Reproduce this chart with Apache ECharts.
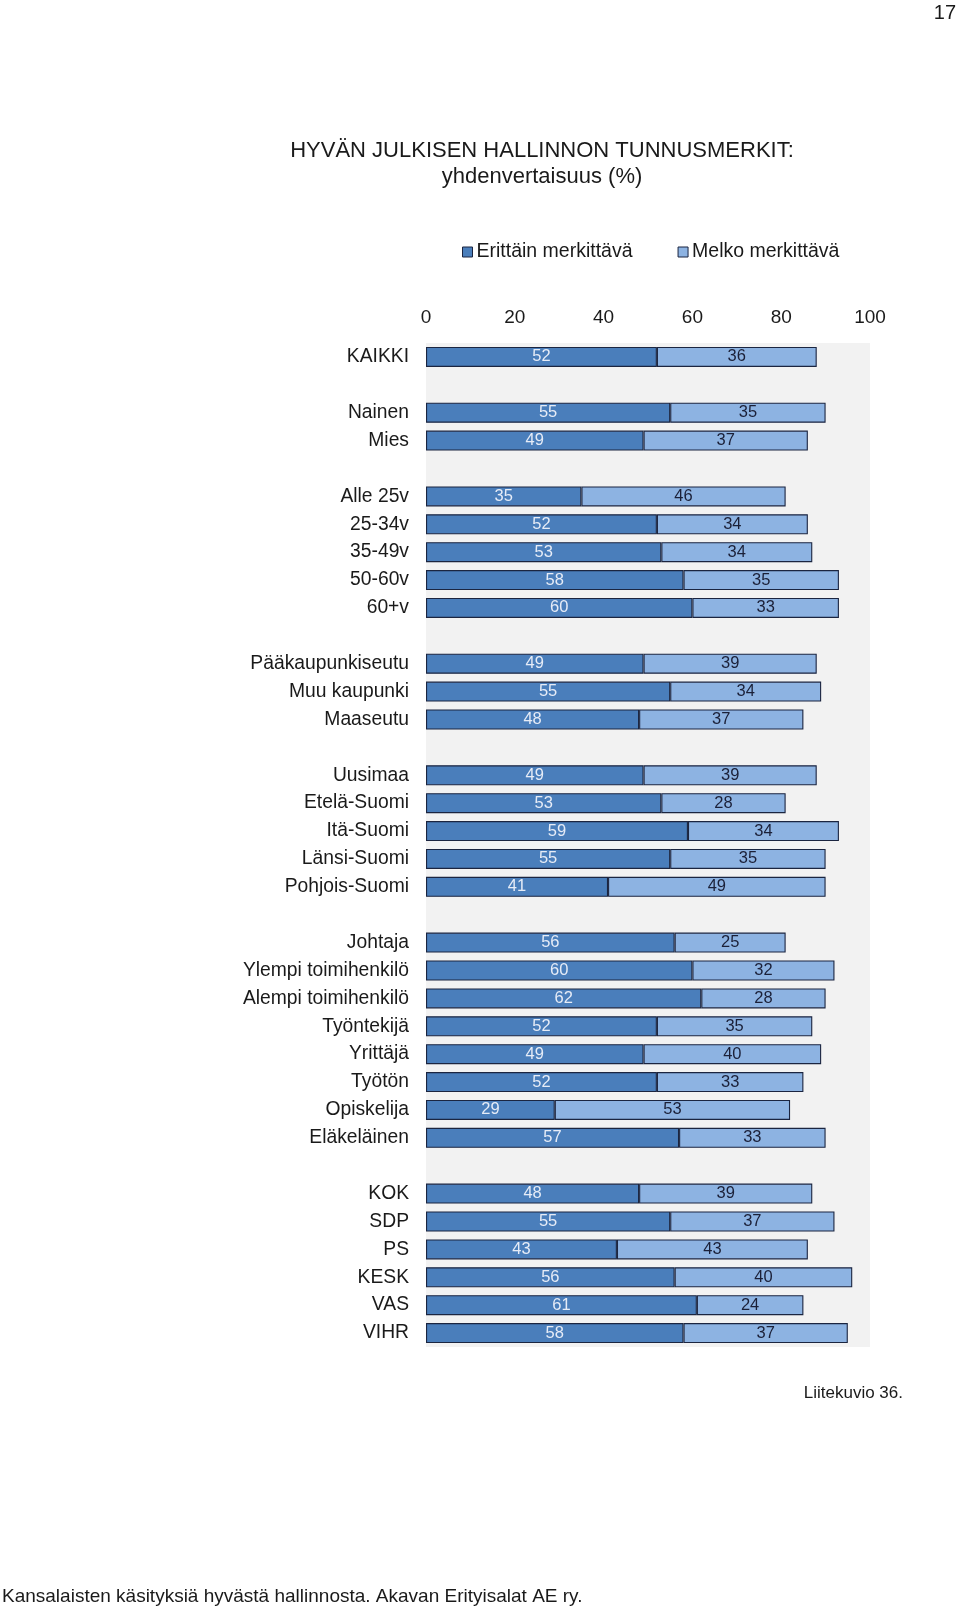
<!DOCTYPE html>
<html>
<head>
<meta charset="utf-8">
<script src="https://cdn.jsdelivr.net/npm/echarts@6/dist/echarts.min.js"></script>
<style>
html,body{margin:0;padding:0;background:#fff;}
#c{width:960px;height:1607px;}
</style>
</head>
<body>
<div id="c"></div>
<script>
// '' marks an empty spacer row between groups
const categories = [
  'KAIKKI', '',
  'Nainen', 'Mies', '',
  'Alle 25v', '25-34v', '35-49v', '50-60v', '60+v', '',
  'Pääkaupunkiseutu', 'Muu kaupunki', 'Maaseutu', '',
  'Uusimaa', 'Etelä-Suomi', 'Itä-Suomi', 'Länsi-Suomi', 'Pohjois-Suomi', '',
  'Johtaja', 'Ylempi toimihenkilö', 'Alempi toimihenkilö', 'Työntekijä', 'Yrittäjä', 'Työtön', 'Opiskelija', 'Eläkeläinen', '',
  'KOK', 'SDP', 'PS', 'KESK', 'VAS', 'VIHR'
];
const erittain = [
  52, null,
  55, 49, null,
  35, 52, 53, 58, 60, null,
  49, 55, 48, null,
  49, 53, 59, 55, 41, null,
  56, 60, 62, 52, 49, 52, 29, 57, null,
  48, 55, 43, 56, 61, 58
];
const melko = [
  36, null,
  35, 37, null,
  46, 34, 34, 35, 33, null,
  39, 34, 37, null,
  39, 28, 34, 35, 49, null,
  25, 32, 28, 35, 40, 33, 53, 33, null,
  39, 37, 43, 40, 24, 37
];
const seriesNames = ['Erittäin merkittävä', 'Melko merkittävä'];
const xTicks = [0, 20, 40, 60, 80, 100];

const FONT = '"Liberation Sans", Arial, Helvetica, sans-serif';
const catKeys = categories.map((c, i) => c === '' ? ('__gap' + i) : c);

const chart = echarts.init(document.getElementById('c'), null, {renderer: 'canvas'});
chart.setOption({
  animation: false,
  backgroundColor: '#ffffff',
  textStyle: {fontFamily: FONT},
  legend: {
    left: 457, top: 237,
    icon: 'rect', itemWidth: 10, itemHeight: 10, itemGap: 45,
    textStyle: {fontSize: 19.5, color: '#1a1a1a', fontFamily: FONT, padding: [0, 0, 0, -1]},
    itemStyle: {borderColor: '#1b2540', borderWidth: 1},
    data: seriesNames
  },
  grid: {
    left: 426, right: 90, top: 343, bottom: 260,
    show: true, backgroundColor: '#f2f2f2', borderWidth: 0
  },
  xAxis: {
    type: 'value', position: 'top', min: 0, max: 100, interval: 20,
    axisLine: {show: false}, axisTick: {show: false}, splitLine: {show: false},
    axisLabel: {fontSize: 19, color: '#1a1a1a', margin: 16, fontFamily: FONT,
      formatter: v => xTicks.includes(v) ? String(v) : ''}
  },
  yAxis: {
    type: 'category', inverse: true, data: catKeys,
    axisLine: {show: false}, axisTick: {show: false},
    axisLabel: {fontSize: 19.3, color: '#1a1a1a', margin: 17, fontFamily: FONT,
      formatter: v => v.startsWith('__gap') ? '' : v}
  },
  series: [
    {
      name: seriesNames[0], type: 'bar', stack: 'a', data: erittain,
      barWidth: 20,
      itemStyle: {color: '#4a7ebb', borderColor: '#1b2540', borderWidth: 1.1},
      label: {show: true, position: 'inside', fontSize: 16.5, color: '#e6ecf7', fontFamily: FONT}
    },
    {
      name: seriesNames[1], type: 'bar', stack: 'a', data: melko,
      barWidth: 20,
      itemStyle: {color: '#8db3e2', borderColor: '#1b2540', borderWidth: 1.1},
      label: {show: true, position: 'inside', fontSize: 16.5, color: '#1b2038', fontFamily: FONT}
    }
  ],
  graphic: [
    {type: 'text', x: 956, y: 3, style: {text: '17', font: '20px ' + FONT, fill: '#1a1a1a', textAlign: 'right'}},
    {type: 'text', x: 542, y: 140, style: {text: 'HYVÄN JULKISEN HALLINNON TUNNUSMERKIT:', font: '22px ' + FONT, fill: '#1a1a1a', textAlign: 'center'}},
    {type: 'text', x: 542, y: 166, style: {text: 'yhdenvertaisuus (%)', font: '22px ' + FONT, fill: '#1a1a1a', textAlign: 'center'}},
    {type: 'text', x: 903, y: 1385, style: {text: 'Liitekuvio 36.', font: '17px ' + FONT, fill: '#1a1a1a', textAlign: 'right'}},
    {type: 'text', x: 2, y: 1587, style: {text: 'Kansalaisten käsityksiä hyvästä hallinnosta. Akavan Erityisalat AE ry.', font: '19px ' + FONT, fill: '#1a1a1a', textAlign: 'left'}}
  ]
});
</script>
</body>
</html>
